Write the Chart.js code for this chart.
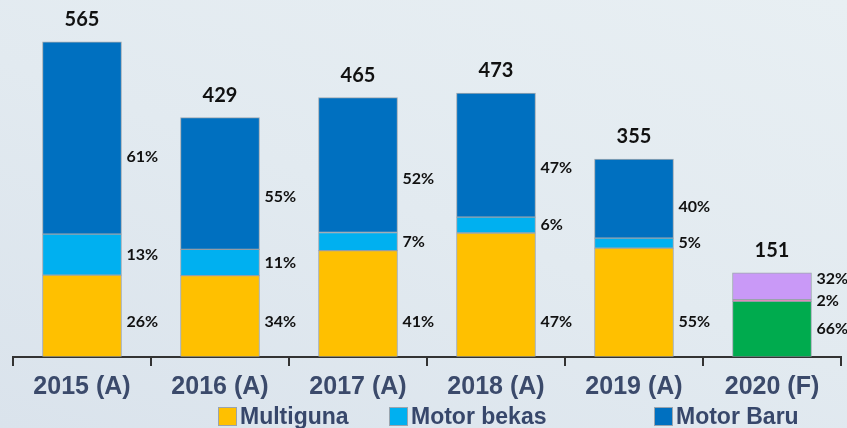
<!DOCTYPE html>
<html lang="id">

<head>
    <meta charset="UTF-8">
    <title>Pembiayaan Motor</title>
    <script src="https://cdn.jsdelivr.net/npm/chart.js"></script>
    <style>
        body { margin: 0; }
        #wrap {
            position: relative;
            width: 847px;
            height: 428px;
            background: linear-gradient(200deg, #e8eff3 0%, #e2eaf0 50%, #dae3ec 100%);
            overflow: hidden;
        }
        #legend .item {
            position: absolute;
            top: 403px;
            display: flex;
            align-items: center;
            font: bold 23px "Liberation Sans", Arial, sans-serif;
            color: #37476b;
            white-space: nowrap;
        }
        #legend .box {
            width: 17px;
            height: 17px;
            margin-right: 3px;
            border: 1px solid #9aa4ae;
        }
    </style>
</head>

<body>
    <div id="wrap">
        <canvas id="chart" width="847" height="428"></canvas>
        <div id="legend"></div>
    </div>

    <script>
        // values
        var years = ['2015 (A)', '2016 (A)', '2017 (A)', '2018 (A)', '2019 (A)', '2020 (F)'];
        var totals = [565, 429, 465, 473, 355, 151];
        var multigunaPct = [26, 34, 41, 47, 55, 66];
        var bekasPct = [13, 11, 7, 6, 5, 2];
        var baruPct = [61, 55, 52, 47, 40, 32];

        var seriesNames = ['Multiguna', 'Motor bekas', 'Motor Baru'];
        var seriesColors = ['#ffc000', '#00b0f0', '#0070c0'];
        // 2020 forecast bar uses its own colours
        var forecastColors = ['#00ab4e', '#e66fae', '#c999f7'];
        var legendLeft = [218, 389, 654];

        function segment(pct) {
            return pct.map(function (p, i) { return totals[i] * p / 100; });
        }

        function colorsFor(s) {
            return years.map(function (y, i) {
                return i === years.length - 1 ? forecastColors[s] : seriesColors[s];
            });
        }

        var pcts = [multigunaPct, bekasPct, baruPct];

        var datasets = pcts.map(function (p, s) {
            return {
                label: seriesNames[s],
                data: segment(p),
                backgroundColor: colorsFor(s),
                borderColor: 'rgba(130,140,150,0.7)',
                borderWidth: 1,
                borderSkipped: false,
                barThickness: 79
            };
        });

        // percent labels right of each bar, total above
        var barLabels = {
            id: 'barLabels',
            afterDatasetsDraw: function (chart) {
                var ctx = chart.ctx;
                var axisY = chart.scales.y.getPixelForValue(0);
                ctx.save();
                ctx.fillStyle = '#111';
                for (var i = 0; i < years.length; i++) {
                    var ys = [];
                    for (var s = 0; s < pcts.length; s++) {
                        var bar = chart.getDatasetMeta(s).data[i];
                        var top = bar.y, base = bar.base;
                        var y;
                        if (s === 0) y = Math.max((top + base) / 2, axisY - 35);
                        else if (s === 1) y = (top + base) / 2;
                        else y = Math.min(top + 0.6 * (base - top), ys[1] - 22);
                        ys.push(y);
                        ctx.font = 'bold 16px Lato, sans-serif';
                        ctx.textAlign = 'left';
                        ctx.textBaseline = 'middle';
                        ctx.fillText(pcts[s][i] + '%', bar.x + bar.width / 2 + 5, y);
                    }
                    var topBar = chart.getDatasetMeta(pcts.length - 1).data[i];
                    ctx.font = 'bold 20px Lato, sans-serif';
                    ctx.textAlign = 'center';
                    ctx.textBaseline = 'alphabetic';
                    ctx.fillText(totals[i], topBar.x, topBar.y - 16);
                }
                ctx.restore();
            }
        };

        var chart = new Chart(document.getElementById('chart'), {
            type: 'bar',
            data: { labels: years, datasets: datasets },
            options: {
                responsive: false,
                animation: false,
                layout: { padding: { left: 13, right: 6, top: 0, bottom: 20 } },
                plugins: {
                    legend: { display: false },
                    tooltip: { enabled: false }
                },
                scales: {
                    x: {
                        stacked: true,
                        grid: {
                            display: true,
                            drawOnChartArea: false,
                            color: '#333',
                            lineWidth: 2,
                            tickLength: 9
                        },
                        border: { display: true, color: '#333', width: 2 },
                        ticks: {
                            color: '#3b4a6b',
                            padding: 6,
                            font: { family: '"Liberation Sans", Arial, sans-serif', size: 25, weight: 'bold' }
                        }
                    },
                    y: {
                        stacked: true,
                        display: false,
                        min: 0,
                        max: 640
                    }
                }
            },
            plugins: [barLabels]
        });

        // html legend for the three actual series
        var legend = document.getElementById('legend');
        seriesNames.forEach(function (name, s) {
            var item = document.createElement('div');
            item.className = 'item';
            item.style.left = legendLeft[s] + 'px';
            item.innerHTML = '<span class="box" style="background:' + seriesColors[s] + '"></span>' + name;
            legend.appendChild(item);
        });
    </script>
</body>

</html>
